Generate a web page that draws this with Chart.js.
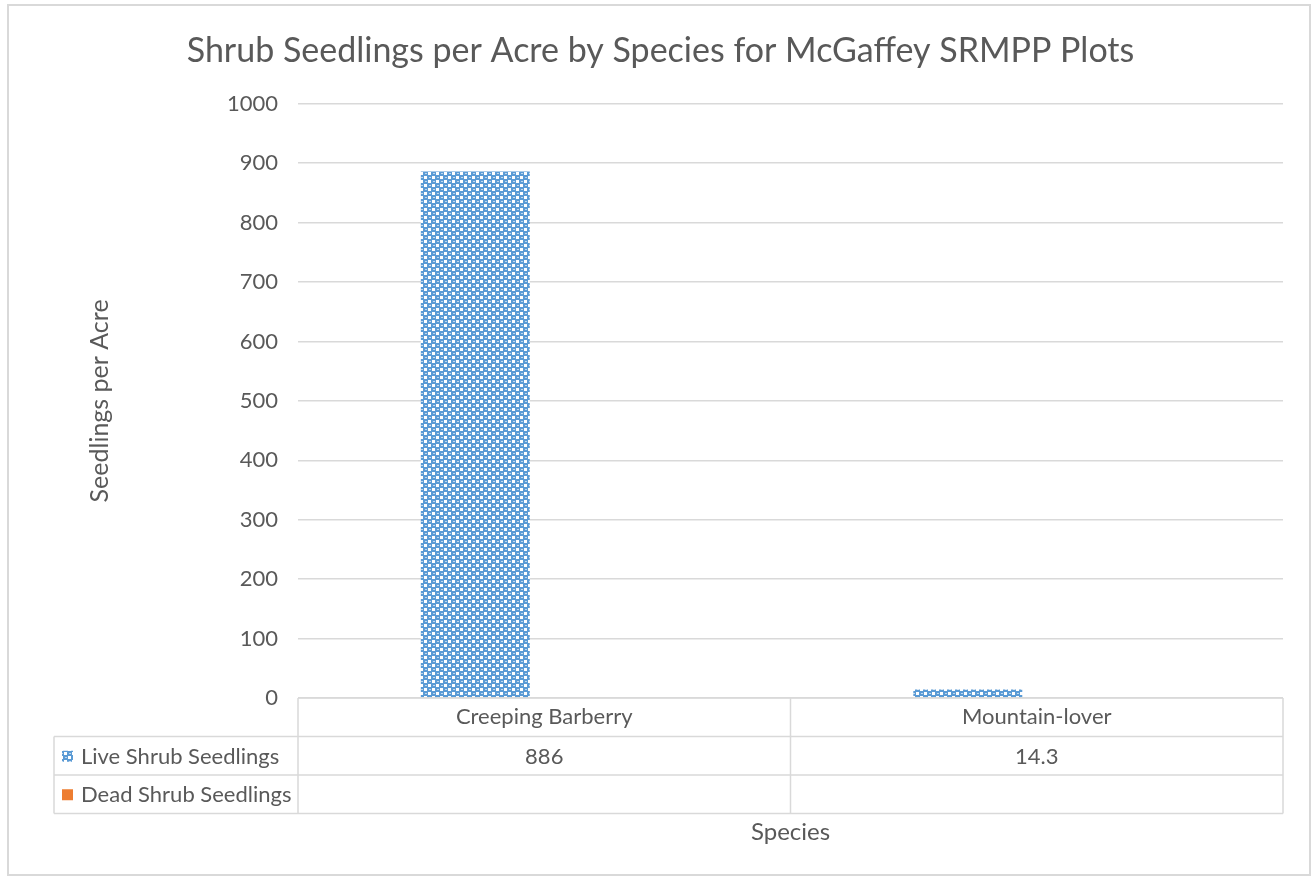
<!DOCTYPE html>
<html>
<head>
<meta charset="utf-8">
<title>Shrub Seedlings per Acre</title>
<script src="https://cdn.jsdelivr.net/npm/chart.js@4.4.1/dist/chart.umd.min.js"></script>
<style>
    html, body { margin: 0; padding: 0; background: #fff; }
    #wrap { width: 1313px; height: 880px; position: relative; }
</style>
</head>
<body>
<div id="wrap"><canvas id="chart"></canvas></div>
<script>
// Data
const species = ['Creeping Barberry', 'Mountain-lover'];
const liveSeedlings = [886, 14.3];
const deadSeedlings = [null, null];
const seriesNames = ['Live Shrub Seedlings', 'Dead Shrub Seedlings'];
const yTicks = [0, 100, 200, 300, 400, 500, 600, 700, 800, 900, 1000];

// Look
const TEXT = '#595959';
const GRID = '#d9d9d9';
const BLUE = '#5b9bd5';
const ORANGE = '#ed7d31';
const FONT = "Lato, 'Open Sans', sans-serif";
const ROW_H = 38.5;

// Excel-ish dotted fill for the live series
function makePattern() {
    const c = document.createElement('canvas');
    c.width = 8;
    c.height = 8;
    const g = c.getContext('2d');
    g.fillStyle = BLUE;
    g.fillRect(0, 0, 8, 8);
    g.fillStyle = '#ffffff';
    g.fillRect(0, 0, 3, 3);
    g.fillRect(4, 4, 3, 3);
    g.fillStyle = 'rgba(255,255,255,0.6)';
    g.fillRect(5, 1, 2, 1);
    g.fillRect(1, 5, 2, 1);
    return g.createPattern(c, 'repeat');
}
const livePattern = makePattern();

// Frame + data table under the plot
const tablePlugin = {
    id: 'dataTable',
    beforeDraw(chart) {
        const ctx = chart.ctx;
        ctx.save();
        ctx.fillStyle = '#fff';
        ctx.fillRect(0, 0, chart.width, chart.height);
        ctx.strokeStyle = GRID;
        ctx.lineWidth = 2;
        ctx.strokeRect(8, 5, 1302, 870);
        ctx.restore();
    },
    afterDraw(chart) {
        const ctx = chart.ctx;
        const area = chart.chartArea;
        const x = chart.scales.x;
        const top = area.bottom;
        const labelLeft = 54;
        const n = species.length;
        const half = (x.getPixelForValue(1) - x.getPixelForValue(0)) / 2;
        const rows = [top, top + ROW_H, top + 2 * ROW_H, top + 3 * ROW_H];

        ctx.save();
        ctx.strokeStyle = GRID;
        ctx.lineWidth = 1.5;
        ctx.beginPath();
        // horizontal rules
        ctx.moveTo(area.left, rows[0]); ctx.lineTo(area.right, rows[0]);
        for (let i = 1; i < rows.length; i++) {
            ctx.moveTo(labelLeft, rows[i]); ctx.lineTo(area.right, rows[i]);
        }
        // vertical rules
        for (let i = 0; i <= n; i++) {
            const px = i < n ? x.getPixelForValue(i) - half : x.getPixelForValue(n - 1) + half;
            ctx.moveTo(px, rows[0]); ctx.lineTo(px, rows[3]);
        }
        ctx.moveTo(labelLeft, rows[1]); ctx.lineTo(labelLeft, rows[3]);
        ctx.stroke();

        ctx.font = '22px ' + FONT;
        ctx.fillStyle = TEXT;
        ctx.textBaseline = 'middle';
        const series = [liveSeedlings, deadSeedlings];
        series.forEach((vals, r) => {
            const cy = (rows[r + 1] + rows[r + 2]) / 2;
            // legend key
            ctx.fillStyle = r === 0 ? livePattern : ORANGE;
            ctx.fillRect(labelLeft + 8, cy - 5, 11, 11);
            ctx.fillStyle = TEXT;
            ctx.textAlign = 'left';
            ctx.fillText(seriesNames[r], labelLeft + 27, cy + 1);
            ctx.textAlign = 'center';
            vals.forEach((v, i) => {
                if (v !== null) ctx.fillText(String(v), x.getPixelForValue(i), cy + 1);
            });
        });
        ctx.restore();
    }
};

const chart = new Chart(document.getElementById('chart'), {
    type: 'bar',
    data: {
        labels: species,
        datasets: [{
            label: seriesNames[0],
            data: liveSeedlings,
            backgroundColor: livePattern,
            borderWidth: 0
        }, {
            label: seriesNames[1],
            data: deadSeedlings,
            backgroundColor: ORANGE,
            borderWidth: 0
        }]
    },
    options: {
        responsive: true,
        maintainAspectRatio: false,
        animation: false,
        datasets: {
            bar: { categoryPercentage: 0.56, barPercentage: 0.79 }
        },
        layout: { padding: { left: 38, right: 30, top: 0, bottom: 0 } },
        plugins: {
            legend: { display: false },
            tooltip: { enabled: false },
            title: {
                display: true,
                text: 'Shrub Seedlings per Acre by Species for McGaffey SRMPP Plots',
                color: TEXT,
                font: { family: FONT, size: 34, weight: 'normal' },
                padding: { top: 31, bottom: 32 }
            }
        },
        scales: {
            x: {
                grid: { display: false, drawTicks: false },
                border: { display: false },
                ticks: {
                    color: TEXT,
                    font: { family: FONT, size: 22 },
                    padding: 6,
                    maxRotation: 0
                },
                title: {
                    display: true,
                    text: 'Species',
                    color: TEXT,
                    font: { family: FONT, size: 24 },
                    padding: { top: 0, bottom: 33 }
                },
                afterFit(scale) { scale.height = 182; }
            },
            y: {
                min: 0,
                max: 1000,
                afterBuildTicks(scale) { scale.ticks = yTicks.map(v => ({ value: v })); },
                grid: { color: GRID, lineWidth: 1.5, drawTicks: false },
                border: { display: false },
                ticks: {
                    color: TEXT,
                    font: { family: FONT, size: 22 },
                    padding: 20,
                    callback: v => String(v)
                },
                title: {
                    display: true,
                    text: 'Seedlings per Acre',
                    color: TEXT,
                    font: { family: FONT, size: 25 },
                    padding: { top: 47, bottom: 0 }
                },
                afterFit(scale) { scale.width = 260; }
            }
        }
    },
    plugins: [tablePlugin]
});
</script>
</body>
</html>
